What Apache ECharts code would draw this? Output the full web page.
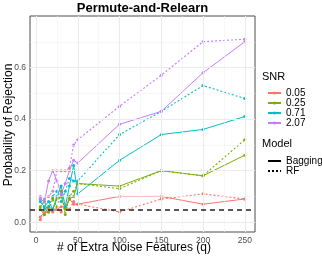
<!DOCTYPE html>
<html>
<head>
<meta charset="utf-8">
<script src="https://cdn.jsdelivr.net/npm/echarts@6/dist/echarts.min.js"></script>
<style>html,body{margin:0;padding:0;background:#fff}#c{width:322px;height:258px}</style>
</head>
<body>
<div id="c"></div>
<script>
const q = [5, 10, 15, 20, 25, 30, 35, 40, 45, 50, 100, 150, 200, 250];
const snrLevels = ['0.05', '0.25', '0.71', '2.07'];
const bag005 = [0.02, 0.04, 0.04, 0.05, 0.05, 0.06, 0.06, 0.09, 0.07, 0.07, 0.10, 0.10, 0.07, 0.09];
const rf005  = [0.01, 0.03, 0.05, 0.04, 0.05, 0.04, 0.06, 0.05, 0.08, 0.07, 0.04, 0.09, 0.11, 0.09];
const bag025 = [0.05, 0.03, 0.06, 0.05, 0.09, 0.10, 0.05, 0.09, 0.10, 0.15, 0.14, 0.20, 0.18, 0.26];
const rf025  = [0.06, 0.08, 0.04, 0.09, 0.06, 0.12, 0.03, 0.10, 0.12, 0.15, 0.13, 0.20, 0.18, 0.32];
const bag071 = [0.08, 0.06, 0.08, 0.05, 0.10, 0.14, 0.06, 0.14, 0.22, 0.11, 0.24, 0.34, 0.36, 0.41];
const rf071  = [0.09, 0.05, 0.06, 0.10, 0.12, 0.08, 0.12, 0.17, 0.16, 0.16, 0.34, 0.43, 0.53, 0.48];
const bag207 = [0.09, 0.08, 0.16, 0.20, 0.16, 0.11, 0.15, 0.20, 0.24, 0.23, 0.38, 0.43, 0.58, 0.70];
const rf207  = [0.10, 0.09, 0.10, 0.12, 0.20, 0.20, 0.20, 0.21, 0.30, 0.32, 0.45, 0.57, 0.70, 0.71];
const refLine = 0.05;
const xTicks = [0, 50, 100, 150, 200, 250];
const xMinor = [25, 75, 125, 175, 225];
const yTicks = [0.0, 0.2, 0.4, 0.6];
const yMinor = [0.1, 0.3, 0.5, 0.7];

const colors = ['#F8766D', '#7CAE00', '#00BFC4', '#C77CFF'];
const bagging = [bag005, bag025, bag071, bag207];
const rf = [rf005, rf025, rf071, rf207];
const FONT = 'Liberation Sans';

function pairs(ys) { return q.map((x, i) => [x, ys[i]]); }

const series = [];
const gridLines = [];
xMinor.forEach(v => gridLines.push({ xAxis: v, lineStyle: { color: '#F2F2F2', width: 0.6, type: 'solid' } }));
yMinor.forEach(v => gridLines.push({ yAxis: v, lineStyle: { color: '#F2F2F2', width: 0.6, type: 'solid' } }));
xTicks.forEach(v => gridLines.push({ xAxis: v, lineStyle: { color: '#EBEBEB', width: 1.1, type: 'solid' } }));
yTicks.forEach(v => gridLines.push({ yAxis: v, lineStyle: { color: '#EBEBEB', width: 1.1, type: 'solid' } }));
series.push({
  type: 'line', data: [], z: 0, silent: true, legendHoverLink: false,
  markLine: { silent: true, symbol: 'none', label: { show: false }, animation: false, data: gridLines }
});

snrLevels.forEach((name, k) => {
  series.push({
    name: name, type: 'line', data: pairs(bagging[k]), z: 3,
    symbol: 'circle', symbolSize: 3, showSymbol: true,
    itemStyle: { color: colors[k] },
    lineStyle: { color: colors[k], width: 1, type: 'solid' },
    animation: false
  });
  series.push({
    name: name, type: 'line', data: pairs(rf[k]), z: 3,
    symbol: 'circle', symbolSize: 3, showSymbol: true,
    itemStyle: { color: colors[k] },
    lineStyle: { color: colors[k], width: 1.1, type: [2, 2] },
    animation: false
  });
});

series.push({
  type: 'line', data: [], z: 5, silent: true,
  markLine: { silent: true, symbol: 'none', label: { show: false }, animation: false,
    data: [{ yAxis: refLine }],
    lineStyle: { color: '#222', width: 1.5, type: [5, 4] } }
});

series.push({ name: 'Bagging', type: 'line', data: [], symbol: 'none', itemStyle: { color: '#000' }, lineStyle: { color: '#000', width: 1, type: 'solid' } });
series.push({ name: 'RF', type: 'line', data: [], symbol: 'none', itemStyle: { color: '#000' }, lineStyle: { color: '#000', width: 1.1, type: [2, 2] } });

const chart = echarts.init(document.getElementById('c'), null, { renderer: 'canvas' });
chart.setOption({
  animation: false,
  backgroundColor: '#ffffff',
  textStyle: { fontFamily: FONT },
  grid: { left: 30, right: 67, top: 16, bottom: 26, show: true, borderColor: '#4d4d4d', borderWidth: 1,
    backgroundColor: 'transparent', containLabel: false, outerBoundsMode: 'none' },
  xAxis: {
    type: 'value', min: -7.25, max: 262.25,
    axisLine: { show: false },
    axisTick: { show: true, customValues: xTicks, length: 3, lineStyle: { color: '#333' } },
    axisLabel: { customValues: xTicks, fontFamily: FONT, fontSize: 8.5, color: '#4D4D4D', margin: 4 },
    splitLine: { show: false }
  },
  yAxis: {
    type: 'value', min: -0.038, max: 0.80,
    axisLine: { show: false },
    axisTick: { show: true, customValues: yTicks, length: 3, lineStyle: { color: '#333' } },
    axisLabel: { customValues: yTicks, fontFamily: FONT, fontSize: 8.5, color: '#4D4D4D', margin: 4,
      formatter: v => v.toFixed(1) },
    splitLine: { show: false }
  },
  legend: [
    {
      data: snrLevels, orient: 'vertical', left: 262, top: 83,
      itemWidth: 13, itemHeight: 4, itemGap: 0, selectedMode: false,
      textStyle: { fontFamily: FONT, fontSize: 10, color: '#000', lineHeight: 10, height: 10 }
    },
    {
      data: ['Bagging', 'RF'], orient: 'vertical', left: 262, top: 151,
      itemWidth: 13, itemHeight: 4, itemGap: 0, selectedMode: false,
      itemStyle: { opacity: 0 },
      textStyle: { fontFamily: FONT, fontSize: 10, color: '#000', lineHeight: 10, height: 10 }
    }
  ],
  graphic: [
    { type: 'text', x: 142.5, y: 8, style: { text: 'Permute-and-Relearn', fontFamily: FONT, fontSize: 13, fontWeight: 'bold', fill: '#000', align: 'center', verticalAlign: 'middle' } },
    { type: 'text', left: 262, top: 71, style: { text: 'SNR', fontFamily: FONT, fontSize: 11, fill: '#000' } },
    { type: 'text', left: 262, top: 138, style: { text: 'Model', fontFamily: FONT, fontSize: 11, fill: '#000' } },
    { type: 'text', x: 134, y: 248, style: { text: '# of Extra Noise Features (q)', fontFamily: FONT, fontSize: 12, fill: '#000', align: 'center', verticalAlign: 'middle' } },
    { type: 'text', x: 9, y: 125, rotation: Math.PI / 2, style: { text: 'Probability of Rejection', fontFamily: FONT, fontSize: 12, fill: '#000', align: 'center', verticalAlign: 'middle' } }
  ],
  series: series
});
</script>
</body>
</html>
